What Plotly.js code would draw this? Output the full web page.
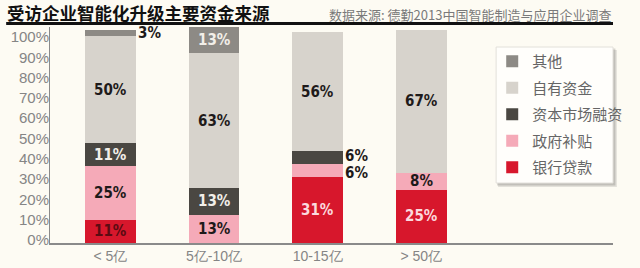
<!DOCTYPE html>
<html>
<head>
<meta charset="utf-8">
<script src="https://cdn.plot.ly/plotly-3.0.1.min.js"></script>
<style>
html,body{margin:0;padding:0;background:#fdfbf3;}
#chart{width:640px;height:268px;}
</style>
</head>
<body>
<div id="chart"></div>
<script>
// ---- data ----
const categories = ['< 5亿', '5亿-10亿', '10-15亿', '> 50亿'];
const seriesNames = ['银行贷款', '政府补贴', '资本市场融资', '自有资金', '其他'];
const bankLoan     = [11, 0, 31, 25];
const govSubsidy   = [25, 13, 6, 8];
const capitalMkt   = [11, 13, 6, 0];
const ownFunds     = [50, 63, 56, 67];
const other        = [3, 13, 0, 0];
const yTickValues  = [0, 10, 20, 30, 40, 50, 60, 70, 80, 90, 100];

const seriesValues = [bankLoan, govSubsidy, capitalMkt, ownFunds, other];

// ---- styles ----
const seriesColors = ['#d7172c', '#f5aab8', '#4a4742', '#d7d3cc', '#8d8a85'];
const labelColors = [
  ['#5c0b12', '#fbd9de', '#fbd9de', '#fbd9de'],
  ['#1e1a1a', '#1e1a1a', '#1e1a1a', '#1e1a1a'],
  ['#f2efe9', '#f2efe9', '#f2efe9', '#f2efe9'],
  ['#1e1a1a', '#1e1a1a', '#1e1a1a', '#1e1a1a'],
  ['#f2efe9', '#f2efe9', '#f2efe9', '#f2efe9']
];
const labelFont = 'DejaVu Sans Condensed, Liberation Sans Narrow, sans-serif';
const outsideThreshold = 7;

const W = 640, H = 268;
const mL = 50, mR = 12, mT = 27, mB = 25;
const pw = W - mL - mR, ph = H - mT - mB;
const px2x = px => (px - mL) / pw;
const py2y = py => (H - mB - py) / ph;

const traces = seriesNames.map((name, i) => ({
  type: 'bar',
  name: name,
  x: categories,
  y: seriesValues[i],
  width: 0.49,
  marker: {color: seriesColors[i], line: {width: 0}},
  legendgroup: 'g' + i,
  legendrank: 10 * (seriesNames.length - i),
  hoverinfo: 'skip'
}));

// value labels from cumulative stacks
const annotations = [];
categories.forEach((cat, c) => {
  let base = 0;
  const smallOnes = [];
  seriesValues.forEach((vals, s) => {
    const v = vals[c];
    if (v > 0) {
      const mid = base + v / 2;
      if (v < outsideThreshold) {
        smallOnes.push({v, mid});
      } else {
        annotations.push({
          x: cat, y: mid, xref: 'x', yref: 'y', text: '<b>' + v + '%</b>',
          showarrow: false, font: {family: labelFont, size: 15, color: labelColors[s][c]}
        });
      }
    }
    base += v;
  });
  smallOnes.forEach((o, k) => {
    let ys = 0;
    if (smallOnes.length > 1) ys = (k === 0 ? -2 : 2);
    annotations.push({
      x: cat, y: o.mid, xref: 'x', yref: 'y', text: '<b>' + o.v + '%</b>',
      showarrow: false, xshift: 39, yshift: ys,
      font: {family: labelFont, size: 15, color: '#1e1a1a'}
    });
  });
});

annotations.push({
  xref: 'paper', yref: 'paper', x: px2x(628), y: py2y(14), xanchor: 'right', yanchor: 'middle',
  text: '数据来源: 德勤2013中国智能制造与应用企业调查', showarrow: false,
  font: {family: 'Noto Sans CJK SC, sans-serif', size: 13, color: '#7a7a7a'}
});

const shapes = [
  // title rule
  {type: 'line', xref: 'paper', yref: 'paper', x0: px2x(5), x1: px2x(628), y0: py2y(23.5), y1: py2y(23.5),
   line: {color: '#111', width: 3}},
  // legend shadow
  {type: 'rect', xref: 'paper', yref: 'paper', x0: px2x(510), x1: px2x(632), y0: py2y(187), y1: py2y(50),
   fillcolor: 'rgba(0,0,0,0.10)', line: {width: 0}, layer: 'above'},
  {type: 'rect', xref: 'paper', yref: 'paper', x0: px2x(509), x1: px2x(630.5), y0: py2y(185.5), y1: py2y(48.5),
   fillcolor: 'rgba(0,0,0,0.15)', line: {width: 0}, layer: 'above'},
  // legend box
  {type: 'rect', xref: 'paper', yref: 'paper', x0: px2x(508), x1: px2x(628), y0: py2y(183), y1: py2y(47),
   fillcolor: '#fffefb', line: {color: '#e2e0da', width: 1}, layer: 'above'}
];

const layout = {
  width: W, height: H,
  margin: {l: mL, r: mR, t: mT, b: mB, pad: 0},
  paper_bgcolor: '#fdfbf3',
  plot_bgcolor: '#fdfbf3',
  barmode: 'stack',
  showlegend: true,
  title: {
    text: '<b>受访企业智能化升级主要资金来源</b>',
    xref: 'container', yref: 'container', x: 7 / W, xanchor: 'left', y: 1 - 13.5 / H, yanchor: 'middle',
    font: {family: 'Noto Sans CJK SC, sans-serif', size: 17.5, color: '#111'}
  },
  xaxis: {
    type: 'category',
    range: [-0.583, 4.85],
    showgrid: false, zeroline: false,
    showline: true, linecolor: '#8a8a8a', linewidth: 1.5,
    ticks: '',
    tickfont: {family: 'Liberation Sans, Arial, sans-serif', size: 14, color: '#858585'},
    fixedrange: true
  },
  yaxis: {
    range: [0, 101.4],
    showgrid: false, zeroline: false,
    showline: true, linecolor: '#8a8a8a', linewidth: 1.5,
    showticklabels: false, ticks: '',
    fixedrange: true
  },
  yaxis2: {
    overlaying: 'y', side: 'left',
    range: [-1.48, 104.9],
    tickvals: yTickValues, ticktext: yTickValues.map(v => v + '%'),
    showgrid: false, zeroline: false, showline: false, ticks: '',
    tickfont: {family: 'Liberation Sans, Arial, sans-serif', size: 15, color: '#858585'},
    fixedrange: true
  },
  legend: {
    x: px2x(504), xanchor: 'left', y: py2y(45), yanchor: 'top',
    bgcolor: 'rgba(0,0,0,0)', borderwidth: 0,
    traceorder: 'grouped', tracegroupgap: 4,
    font: {family: 'Noto Sans CJK SC, sans-serif', size: 15, color: '#666'}
  },
  annotations: annotations,
  shapes: shapes
};

// invisible anchor for the percentage scale axis (no marks)
traces.push({type: 'scatter', x: [], y: [], yaxis: 'y2', showlegend: false, hoverinfo: 'skip'});

Plotly.newPlot('chart', traces, layout, {displayModeBar: false, staticPlot: true});
</script>
</body>
</html>
